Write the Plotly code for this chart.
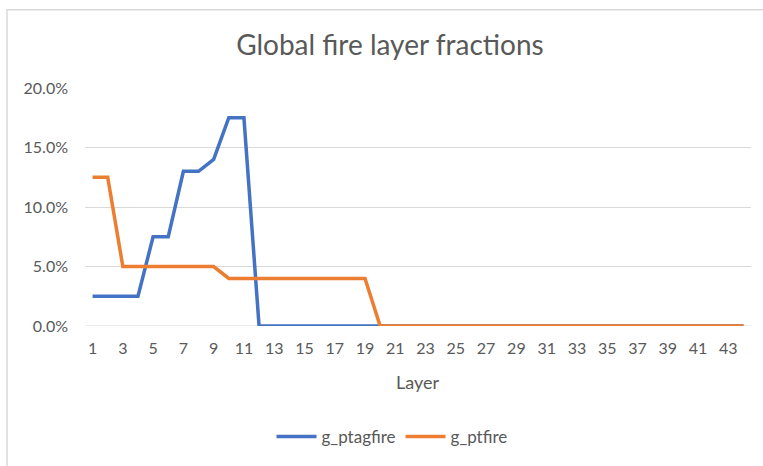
import plotly.graph_objects as go

# Layer indices and fire fractions per layer
layers = list(range(1, 45))
g_ptagfire = [0.025, 0.025, 0.025, 0.025, 0.075, 0.075, 0.13, 0.13, 0.14, 0.175, 0.175] + [0.0] * 33
g_ptfire = [0.125, 0.125] + [0.05] * 7 + [0.04] * 10 + [0.0] * 25

x_tickvals = list(range(1, 44, 2))
x_ticktext = [str(v) for v in x_tickvals]
y_tickvals = [0.0, 0.05, 0.10, 0.15, 0.20]

FONT = "Lato"
GREY = "#595959"

fig = go.Figure()
fig.add_trace(go.Scatter(x=layers, y=g_ptagfire, mode="lines", name="g_ptagfire",
                         line=dict(color="#4472C4", width=3.5), cliponaxis=False))
fig.add_trace(go.Scatter(x=layers, y=g_ptfire, mode="lines", name="g_ptfire",
                         line=dict(color="#ED7D31", width=3.5), cliponaxis=False))

fig.update_layout(
    width=763, height=466,
    margin=dict(l=85, r=12, t=88, b=139),
    paper_bgcolor="white", plot_bgcolor="white",
    font=dict(family=FONT, color=GREY, size=16),
    title=dict(text="Global fire layer fractions", x=0.511, xanchor="center",
               y=0.903, yanchor="middle", font=dict(size=28, color=GREY, family=FONT)),
    showlegend=True,
    legend=dict(orientation="h", x=0.461, xanchor="center", y=-0.46, yanchor="middle",
                font=dict(size=17, color=GREY), itemwidth=40, traceorder="normal"),
    xaxis=dict(range=[0.5, 44.5], tickvals=x_tickvals, ticktext=x_ticktext,
               showgrid=False, zeroline=False, showline=False, ticks="",
               ticklabelstandoff=11, tickfont=dict(size=16, color=GREY)),
    yaxis=dict(range=[0, 0.2], tickvals=y_tickvals, tickformat=".1%",
               showgrid=True, gridcolor="#D9D9D9", gridwidth=1, zeroline=False,
               showline=False, ticks="", ticklabelstandoff=16,
               tickfont=dict(size=16, color=GREY)),
    annotations=[dict(text="Layer", x=0.5, xref="paper", y=-0.235, yref="paper",
                      showarrow=False, xanchor="center", yanchor="middle",
                      font=dict(size=18, color=GREY, family=FONT))],
    shapes=[
        # outer chart frame
        dict(type="rect", xref="paper", yref="paper", x0=-0.1171, x1=1.2, y0=-1.0, y1=1.3285,
             line=dict(color="#D9D9D9", width=1.5), layer="below"),
        # horizontal axis line
        dict(type="line", xref="paper", yref="y", x0=0, x1=1, y0=0, y1=0,
             line=dict(color="#D9D9D9", width=1), layer="below"),
    ],
)

fig.write_html("out.html")
